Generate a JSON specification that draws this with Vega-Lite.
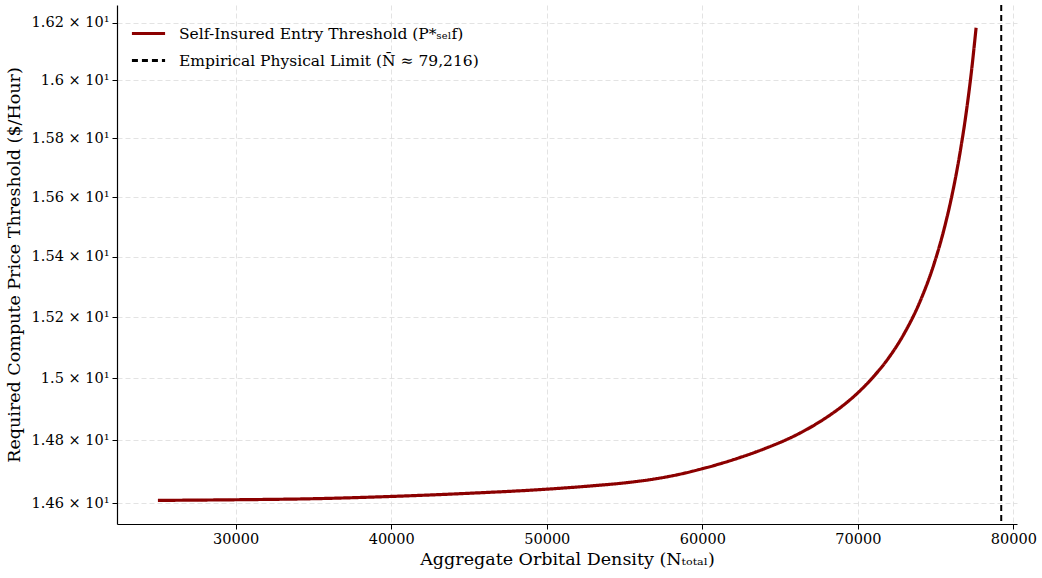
{
  "$schema": "https://vega.github.io/schema/vega-lite/v6.json",
  "width": 900,
  "height": 519,
  "autosize": {"type": "none"},
  "padding": {"left": 117, "top": 5, "right": 25, "bottom": 54},
  "background": "white",
  "config": {
    "view": {"stroke": null},
    "font": "DejaVu Serif",
    "axis": {
      "domainColor": "#000000",
      "domainWidth": 1.2,
      "tickColor": "#000000",
      "tickSize": 5,
      "tickWidth": 1,
      "labelColor": "#000000",
      "labelFont": "DejaVu Serif",
      "labelFontSize": 14.5,
      "titleFont": "DejaVu Serif",
      "titleFontSize": 17.5,
      "titleFontWeight": "normal",
      "titleColor": "#000000",
      "gridColor": "#dcdcdc",
      "gridDash": [5, 3],
      "gridWidth": 1,
      "gridOpacity": 0.8
    },
    "legend": {
      "labelFont": "DejaVu Serif",
      "labelFontSize": 15.5,
      "labelColor": "#000000",
      "labelLimit": 0,
      "symbolType": "stroke",
      "symbolSize": 1100,
      "symbolStrokeWidth": 3,
      "labelOffset": 12,
      "rowPadding": -4
    }
  },
  "datasets": {
    "curve": [
      {"N": 25000, "P": 14.6085, "series": "Self-Insured Entry Threshold (P*ₛₑₗf)"},
      {"N": 30000, "P": 14.6105, "series": "Self-Insured Entry Threshold (P*ₛₑₗf)"},
      {"N": 35000, "P": 14.6138, "series": "Self-Insured Entry Threshold (P*ₛₑₗf)"},
      {"N": 40000, "P": 14.621, "series": "Self-Insured Entry Threshold (P*ₛₑₗf)"},
      {"N": 45000, "P": 14.631, "series": "Self-Insured Entry Threshold (P*ₛₑₗf)"},
      {"N": 50000, "P": 14.644, "series": "Self-Insured Entry Threshold (P*ₛₑₗf)"},
      {"N": 53000, "P": 14.655, "series": "Self-Insured Entry Threshold (P*ₛₑₗf)"},
      {"N": 55000, "P": 14.664, "series": "Self-Insured Entry Threshold (P*ₛₑₗf)"},
      {"N": 57000, "P": 14.677, "series": "Self-Insured Entry Threshold (P*ₛₑₗf)"},
      {"N": 58500, "P": 14.691, "series": "Self-Insured Entry Threshold (P*ₛₑₗf)"},
      {"N": 60000, "P": 14.709, "series": "Self-Insured Entry Threshold (P*ₛₑₗf)"},
      {"N": 62000, "P": 14.738, "series": "Self-Insured Entry Threshold (P*ₛₑₗf)"},
      {"N": 64000, "P": 14.773, "series": "Self-Insured Entry Threshold (P*ₛₑₗf)"},
      {"N": 66000, "P": 14.816, "series": "Self-Insured Entry Threshold (P*ₛₑₗf)"},
      {"N": 68000, "P": 14.874, "series": "Self-Insured Entry Threshold (P*ₛₑₗf)"},
      {"N": 69000, "P": 14.910, "series": "Self-Insured Entry Threshold (P*ₛₑₗf)"},
      {"N": 70000, "P": 14.953, "series": "Self-Insured Entry Threshold (P*ₛₑₗf)"},
      {"N": 71000, "P": 15.005, "series": "Self-Insured Entry Threshold (P*ₛₑₗf)"},
      {"N": 72000, "P": 15.068, "series": "Self-Insured Entry Threshold (P*ₛₑₗf)"},
      {"N": 73000, "P": 15.148, "series": "Self-Insured Entry Threshold (P*ₛₑₗf)"},
      {"N": 74000, "P": 15.252, "series": "Self-Insured Entry Threshold (P*ₛₑₗf)"},
      {"N": 75000, "P": 15.393, "series": "Self-Insured Entry Threshold (P*ₛₑₗf)"},
      {"N": 75500, "P": 15.484, "series": "Self-Insured Entry Threshold (P*ₛₑₗf)"},
      {"N": 76000, "P": 15.594, "series": "Self-Insured Entry Threshold (P*ₛₑₗf)"},
      {"N": 76500, "P": 15.730, "series": "Self-Insured Entry Threshold (P*ₛₑₗf)"},
      {"N": 77000, "P": 15.902, "series": "Self-Insured Entry Threshold (P*ₛₑₗf)"},
      {"N": 77300, "P": 16.030, "series": "Self-Insured Entry Threshold (P*ₛₑₗf)"},
      {"N": 77600, "P": 16.183, "series": "Self-Insured Entry Threshold (P*ₛₑₗf)"}
    ],
    "limit": [
      {"N": 79216, "series": "Empirical Physical Limit (N̄ ≈ 79,216)"}
    ]
  },
  "layer": [
    {
      "data": {"name": "curve"},
      "mark": {"type": "line", "strokeWidth": 3.2, "interpolate": "monotone"},
      "encoding": {
        "x": {
          "field": "N",
          "type": "quantitative",
          "scale": {"domain": [22370, 80230], "nice": false, "zero": false},
          "axis": {
            "title": "Aggregate Orbital Density (Nₜₒₜₐₗ)",
            "values": [30000, 40000, 50000, 60000, 70000, 80000],
            "format": "d",
            "labelPadding": 3,
            "titlePadding": 5
          }
        },
        "y": {
          "field": "P",
          "type": "quantitative",
          "scale": {"type": "log", "domain": [14.534, 16.263], "nice": false},
          "axis": {
            "title": "Required Compute Price Threshold ($/Hour)",
            "values": [14.6, 14.8, 15.0, 15.2, 15.4, 15.6, 15.8, 16.0, 16.2],
            "labelExpr": "format(datum.value / 10, '.3~f') + ' × 10¹'",
            "labelPadding": 3,
            "titlePadding": 8
          }
        },
        "color": {
          "field": "series",
          "type": "nominal",
          "scale": {
            "domain": ["Self-Insured Entry Threshold (P*ₛₑₗf)", "Empirical Physical Limit (N̄ ≈ 79,216)"],
            "range": ["#8B0000", "#000000"]
          },
          "legend": {"title": null, "orient": "none", "legendX": 13, "legendY": 10}
        },
        "strokeDash": {
          "field": "series",
          "type": "nominal",
          "scale": {
            "domain": ["Self-Insured Entry Threshold (P*ₛₑₗf)", "Empirical Physical Limit (N̄ ≈ 79,216)"],
            "range": [[1, 0], [6, 4]]
          },
          "legend": {"title": null, "orient": "none", "legendX": 13, "legendY": 10}
        }
      }
    },
    {
      "data": {"name": "limit"},
      "mark": {"type": "rule", "strokeWidth": 2},
      "encoding": {
        "x": {"field": "N", "type": "quantitative"},
        "color": {"field": "series", "type": "nominal"},
        "strokeDash": {"field": "series", "type": "nominal"}
      }
    }
  ]
}
